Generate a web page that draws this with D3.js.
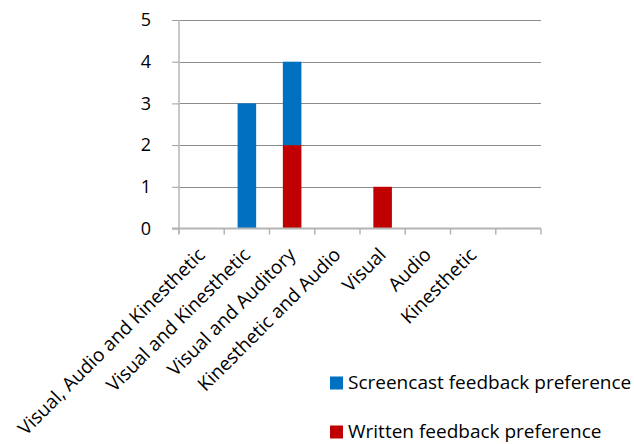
<!DOCTYPE html>
<html>
<head>
<meta charset="utf-8">
<script src="https://cdn.jsdelivr.net/npm/d3@7"></script>
<style>
  html, body { margin: 0; padding: 0; background: #fff; }
  svg { display: block; }
  text { font-family: "Open Sans", Lato, sans-serif; fill: #000; }
</style>
</head>
<body>
<svg id="chart" width="634" height="444"></svg>
<script>
// Learning style categories (the last slot on the axis is left blank)
const categories = [
  "Visual, Audio and Kinesthetic",
  "Visual and Kinesthetic",
  "Visual and Auditory",
  "Kinesthetic and Audio",
  "Visual",
  "Audio",
  "Kinesthetic",
  ""
];
const screencastValues = [0, 3, 2, 0, 0, 0, 0, 0];
const writtenValues    = [0, 0, 2, 0, 1, 0, 0, 0];
const seriesNames = ["Screencast feedback preference", "Written feedback preference"];
const seriesColors = ["#0070c0", "#c00000"];
const yTicks = [0, 1, 2, 3, 4, 5];

const svg = d3.select("#chart");
const plot = { left: 179, right: 541, top: 20, bottom: 228.5 };
const labelSize = 19;
const legendSize = 19;

const x = d3.scaleBand().domain(d3.range(categories.length))
  .range([plot.left, plot.right]).padding(0);
const y = d3.scaleLinear().domain([0, 5]).range([plot.bottom, plot.top]);

// horizontal gridlines
svg.append("g").selectAll("line").data(yTicks.filter(d => d > 0)).join("line")
  .attr("x1", plot.left).attr("x2", plot.right)
  .attr("y1", d => Math.round(y(d)) + 0.5).attr("y2", d => Math.round(y(d)) + 0.5)
  .attr("stroke", "#8c8c8c").attr("stroke-width", 1);

// stacked bars: written at the bottom, screencast on top
const barW = x.bandwidth() * 0.41;
const stacks = categories.map((c, i) => ({ i, w: writtenValues[i], s: screencastValues[i] }));
const barG = svg.append("g");
barG.selectAll("rect.written").data(stacks.filter(d => d.w > 0)).join("rect")
  .attr("class", "written")
  .attr("x", d => x(d.i) + (x.bandwidth() - barW) / 2)
  .attr("width", barW)
  .attr("y", d => y(d.w))
  .attr("height", d => y(0) - y(d.w))
  .attr("fill", seriesColors[1]);
barG.selectAll("rect.screencast").data(stacks.filter(d => d.s > 0)).join("rect")
  .attr("class", "screencast")
  .attr("x", d => x(d.i) + (x.bandwidth() - barW) / 2)
  .attr("width", barW)
  .attr("y", d => y(d.w + d.s))
  .attr("height", d => y(d.w) - y(d.w + d.s))
  .attr("fill", seriesColors[0]);

// y axis
const yAxis = d3.axisLeft(y).tickValues(yTicks).tickSize(7).tickPadding(21).tickFormat(d3.format("d"));
const yg = svg.append("g").attr("transform", `translate(${plot.left},0)`).call(yAxis);
yg.select(".domain").attr("stroke", "#c8c8c8").attr("stroke-width", 2)
  .attr("d", `M0,${plot.top}V${plot.bottom + 5}`);
yg.selectAll(".tick line").attr("stroke", "#a0a0a0");
yg.selectAll(".tick text").attr("font-size", 18).attr("font-family", "Open Sans").attr("fill", "#000");

// x axis with ticks on category boundaries
const xg = svg.append("g");
xg.append("line").attr("x1", plot.left - 7).attr("x2", plot.right)
  .attr("y1", plot.bottom).attr("y2", plot.bottom)
  .attr("stroke", "#b4b4b4").attr("stroke-width", 2);
const bounds = d3.range(categories.length + 1).map(i => plot.left + i * x.step());
xg.selectAll("line.tick").data(bounds).join("line").attr("class", "tick")
  .attr("x1", d => d).attr("x2", d => d)
  .attr("y1", plot.bottom).attr("y2", plot.bottom + 6)
  .attr("stroke", "#b4b4b4").attr("stroke-width", 1.5);

// rotated category labels, anchored at their end just below each category
xg.selectAll("text").data(categories.filter(c => c !== "")).join("text")
  .attr("text-anchor", "end")
  .attr("font-size", labelSize)
  .attr("transform", (d, i) => `translate(${x(i) + x.bandwidth() / 2 + 4.5},${plot.bottom + 27.5}) rotate(-45)`)
  .text(d => d);

// legend
const legend = svg.append("g");
const legendRows = [{ y: 376.5 }, { y: 425.5 }];
seriesNames.forEach((name, k) => {
  const row = legend.append("g").attr("transform", `translate(330,${legendRows[k].y})`);
  row.append("rect").attr("width", 13).attr("height", 13).attr("fill", seriesColors[k]);
  row.append("text").attr("x", 18).attr("y", 12.5).attr("font-size", legendSize).text(name);
});
</script>
</body>
</html>
